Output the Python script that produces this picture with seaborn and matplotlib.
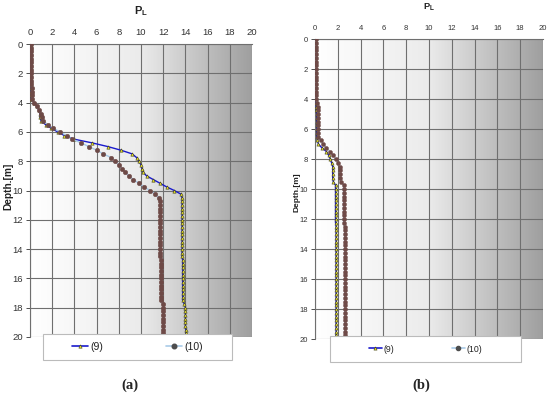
import numpy as np
import matplotlib
matplotlib.use("Agg")
import matplotlib.pyplot as plt
import seaborn as sns
from matplotlib.lines import Line2D
from matplotlib.patches import Rectangle
from matplotlib.colors import LinearSegmentedColormap

sns.set_theme(style="white")
plt.rcParams['font.family'] = ['Liberation Sans', 'DejaVu Sans']

# ---------------- data ----------------
depth = [0.0, 0.25, 0.5, 0.75, 1.0, 1.25, 1.5, 1.75, 2.0, 2.25, 2.5, 2.75,
         3.0, 3.25, 3.5, 3.75, 4.0, 4.25, 4.5, 4.75, 5.0, 5.25, 5.5, 5.75,
         6.0, 6.25, 6.5, 6.75, 7.0, 7.25, 7.5, 7.75, 8.0, 8.25, 8.5, 8.75,
         9.0, 9.25, 9.5, 9.75, 10.0, 10.25, 10.5, 10.75, 11.0, 11.25, 11.5, 11.75,
         12.0, 12.25, 12.5, 12.75, 13.0, 13.25, 13.5, 13.75, 14.0, 14.25, 14.5, 14.75,
         15.0, 15.25, 15.5, 15.75, 16.0, 16.25, 16.5, 16.75, 17.0, 17.25, 17.5, 17.75,
         18.0, 18.25, 18.5, 18.75, 19.0, 19.25, 19.5, 19.75, 20.0]

# panel (a)
a_s9 = [0.1, 0.1, 0.1, 0.1, 0.1, 0.1, 0.1, 0.1, 0.1, 0.1, 0.1, 0.1,
        0.1, 0.1, 0.1, 0.1, 0.4, 0.6, 0.8, 0.9, 0.9, 1.0, 1.4, 1.9,
        2.5, 3.1, 4.0, 5.6, 7.0, 8.2, 9.2, 9.6, 9.8, 10.0, 10.1, 10.2,
        10.5, 11.1, 11.7, 12.3, 13.0, 13.6, 13.7, 13.7, 13.7, 13.7, 13.7, 13.7,
        13.7, 13.7, 13.7, 13.7, 13.7, 13.7, 13.7, 13.7, 13.7, 13.7, 13.7, 13.75,
        13.75, 13.75, 13.75, 13.75, 13.75, 13.75, 13.75, 13.75, 13.75, 13.75, 13.75, 13.9,
        14.0, 14.0, 14.0, 14.0, 14.0, 14.0, 14.05, 14.05, 14.1]
a_s10 = [0.1, 0.1, 0.1, 0.1, 0.1, 0.1, 0.1, 0.1, 0.1, 0.1, 0.1, 0.1,
         0.15, 0.15, 0.15, 0.2, 0.4, 0.6, 0.8, 1.0, 1.1, 1.2, 1.6, 2.1,
         2.7, 3.3, 3.8, 4.6, 5.3, 6.0, 6.6, 7.3, 7.7, 8.0, 8.3, 8.6,
         8.9, 9.3, 9.8, 10.3, 10.8, 11.3, 11.6, 11.75, 11.75, 11.75, 11.75, 11.75,
         11.75, 11.75, 11.75, 11.75, 11.75, 11.75, 11.75, 11.75, 11.75, 11.75, 11.75, 11.8,
         11.8, 11.8, 11.8, 11.8, 11.8, 11.8, 11.8, 11.8, 11.8, 11.8, 11.8, 11.95,
         12.0, 12.0, 12.0, 12.0, 12.0, 12.0, 12.0, 12.0, 12.0]

# panel (b)
b_s9 = [0.05, 0.05, 0.05, 0.05, 0.05, 0.05, 0.05, 0.05, 0.05, 0.05, 0.05, 0.05,
        0.05, 0.05, 0.05, 0.05, 0.05, 0.1, 0.1, 0.1, 0.15, 0.15, 0.15, 0.15,
        0.15, 0.15, 0.15, 0.2, 0.3, 0.6, 1.0, 1.2, 1.35, 1.45, 1.55, 1.55,
        1.55, 1.55, 1.6, 1.8, 1.8, 1.8, 1.8, 1.8, 1.8, 1.8, 1.8, 1.8,
        1.8, 1.8, 1.85, 1.85, 1.85, 1.85, 1.85, 1.85, 1.85, 1.85, 1.85, 1.85,
        1.85, 1.85, 1.85, 1.85, 1.85, 1.85, 1.85, 1.85, 1.85, 1.85, 1.85, 1.85,
        1.85, 1.85, 1.85, 1.85, 1.85, 1.85, 1.85, 1.85, 1.85]
b_s10 = [0.05, 0.05, 0.05, 0.05, 0.05, 0.05, 0.05, 0.05, 0.05, 0.05, 0.05, 0.05,
         0.05, 0.05, 0.05, 0.05, 0.05, 0.2, 0.25, 0.25, 0.3, 0.3, 0.3, 0.3,
         0.3, 0.3, 0.3, 0.5, 0.7, 1.0, 1.3, 1.6, 1.8, 2.0, 2.2, 2.2,
         2.2, 2.2, 2.3, 2.5, 2.5, 2.5, 2.5, 2.5, 2.5, 2.5, 2.5, 2.5,
         2.5, 2.5, 2.6, 2.6, 2.6, 2.6, 2.6, 2.6, 2.6, 2.6, 2.6, 2.6,
         2.6, 2.6, 2.6, 2.6, 2.6, 2.6, 2.6, 2.6, 2.6, 2.6, 2.6, 2.6,
         2.6, 2.6, 2.6, 2.6, 2.6, 2.6, 2.6, 2.6, 2.6]

series_names = ["(9)", "(10)"]
x_ticks = [0, 2, 4, 6, 8, 10, 12, 14, 16, 18, 20]
y_ticks = [0, 2, 4, 6, 8, 10, 12, 14, 16, 18, 20]

# ---------------- styles ----------------
c9_line = "#1a1acc"
c9_mark = "#e8e030"
c10_line = "#a9cbe8"
c10_mark = "#6e4a47"
grid_c = "#6f6f6f"
grad = LinearSegmentedColormap.from_list("g", ["#ffffff", "#ebebeb", "#9f9f9f"])

fig = plt.figure(figsize=(5.5, 3.97), dpi=100)

panels = [
    dict(rect=[30/550, 1-337/397, 222/550, 293/397], s9=a_s9, s10=a_s10, fs=6.8,
         title_y=1-11/397, ylab_x=8/550, ylab_y=1-186/397, ms9=2.4, ms10=3.3,
         box=(43/550, 1-360/397, 189/550, 26/397), colsp=6.0, cap="(a)", cap_x=130/550),
    dict(rect=[315/550, 1-339/397, 228/550, 300/397], s9=b_s9, s10=b_s10, fs=5.5,
         title_y=1-7/397, ylab_x=297/550, ylab_y=1-192/397, ms9=2.3, ms10=3.0,
         box=(330/550, 1-362/397, 191/550, 26/397), colsp=6.6, cap="(b)", cap_x=421/550),
]

for p in panels:
    ax = fig.add_axes(p["rect"])
    gimg = np.linspace(0, 1, 256).reshape(1, -1)
    ax.imshow(gimg, cmap=grad, aspect="auto", extent=[0, 20, 20, 0], zorder=0)
    for t in x_ticks:
        ax.axvline(t, color=grid_c, lw=0.8, zorder=1)
    for t in y_ticks:
        ax.axhline(t, color=grid_c, lw=0.8, zorder=1)
    sns.lineplot(x=p["s9"], y=depth, sort=False, estimator=None, ax=ax,
                 color=c9_line, lw=1.0, marker="^", markersize=p["ms9"],
                 markerfacecolor=c9_mark, markeredgecolor="#3a3a10",
                 markeredgewidth=0.4, zorder=3)
    sns.lineplot(x=p["s10"], y=depth, sort=False, estimator=None, ax=ax,
                 color=c10_line, lw=1.0, marker="o", markersize=p["ms10"],
                 markerfacecolor=c10_mark, markeredgecolor=c10_mark,
                 markeredgewidth=0.3, zorder=4)
    ax.set_xlim(0, 20)
    ax.set_ylim(20, 0)
    ax.set_xticks(x_ticks)
    ax.set_yticks(y_ticks)
    ax.xaxis.tick_top()
    ax.grid(False)
    ax.tick_params(axis="both", labelsize=p["fs"], colors="#333333", length=3,
                   width=0.6, pad=2)
    ax.tick_params(axis="x", bottom=False, top=False)
    ax.tick_params(axis="y", left=True)
    for s in ["right", "bottom"]:
        ax.spines[s].set_visible(False)
    for s in ["top", "left"]:
        ax.spines[s].set_color(grid_c)
        ax.spines[s].set_linewidth(0.8)
    ax.set_xlabel("")
    ax.set_ylabel("")
    cx = p["rect"][0] + p["rect"][2] / 2
    fig.text(cx, p["title_y"], r"P$_\mathregular{L}$", ha="center", va="center",
             fontsize=p["fs"] + 1.2, fontweight="bold", color="#222222")
    fig.text(p["ylab_x"], p["ylab_y"], "Depth.[m]", rotation=90, ha="center",
             va="center", fontsize=p["fs"] + 0.5, fontweight="bold", color="#222222")
    bx, by, bw, bh = p["box"]
    fig.patches.append(Rectangle((bx, by), bw, bh, transform=fig.transFigure,
                                 facecolor="white", edgecolor="#bbbbbb", lw=0.8,
                                 zorder=5))
    handles = [
        Line2D([], [], color=c9_line, lw=1.2, marker="^", markersize=p["ms9"],
               markerfacecolor=c9_mark, markeredgecolor="#3a3a10", markeredgewidth=0.4),
        Line2D([], [], color=c10_line, lw=1.2, marker="o", markersize=p["ms10"],
               markerfacecolor="#4d4d4d", markeredgecolor="#4d4d4d"),
    ]
    leg = fig.legend(handles, series_names, loc="center",
                     bbox_to_anchor=(bx + bw / 2, by + bh / 2),
                     ncol=2, fontsize=p["fs"] + 0.8, frameon=False,
                     handlelength=1.5, handletextpad=0.2, borderaxespad=0,
                     columnspacing=p["colsp"])
    leg.set_zorder(6)
    for t in leg.get_texts():
        t.set_color("#222222")
    fig.text(p["cap_x"], 1-385/397, p["cap"], ha="center", va="center",
             fontsize=10.5, fontweight="bold", family="Liberation Serif")

fig.savefig("out.png", dpi=100)
